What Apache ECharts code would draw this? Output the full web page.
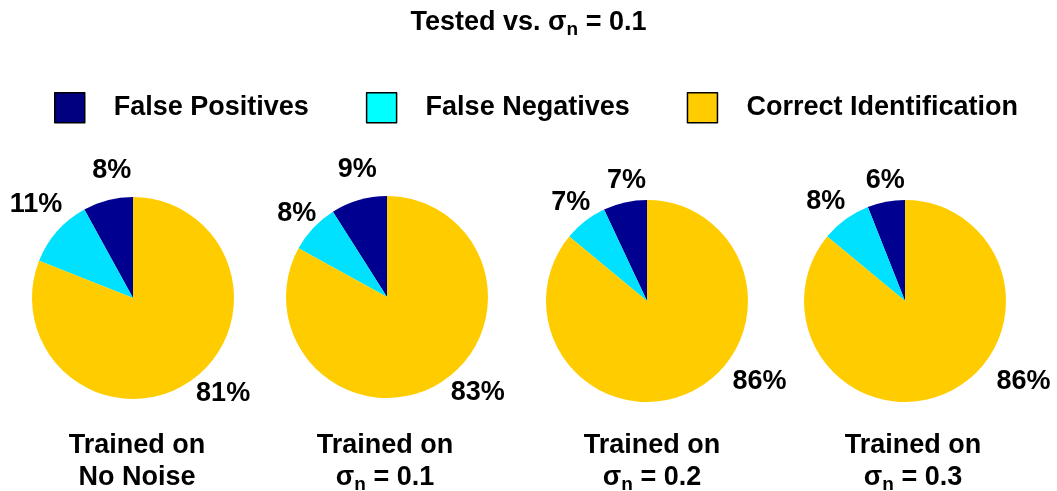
<!DOCTYPE html>
<html lang="en">
<head>
    <meta charset="UTF-8">
    <title>Tested vs. sigma n = 0.1</title>
    <script src="https://cdn.jsdelivr.net/npm/echarts@6/dist/echarts.min.js"></script>
    <style>
        body {
            margin: 0;
            background: #fff;
        }

        #pieChart {
            width: 1057px;
            height: 491px;
        }
    </style>
</head>
<body>
<div id="pieChart"></div>

<script>
    // values (percent)
    const categories = ['False Positives', 'False Negatives', 'Correct Identification'];
    const falsePositives = [8, 9, 7, 6];
    const falseNegatives = [11, 8, 7, 8];
    const correctIds = [81, 83, 86, 86];
    const trainedNoise = ['No Noise', '0.1', '0.2', '0.3'];
    const testedNoise = '0.1';

    // layout
    const font = "'Liberation Sans', Arial, Helvetica, sans-serif";
    const sliceColors = ['#000090', '#00e1ff', '#ffcc00'];
    const legendColors = ['#000080', '#00ffff', '#ffcc00'];
    const pieCenters = [[133, 298], [387, 297], [647, 301], [905, 301]];
    const pieRadius = 101;
    const captionX = [137, 385, 652, 913];
    // labels sit at 1.2 x radius on the slice middle, then nudged a bit
    const labelNudge = [
        [[9, -10], [-6, -13], [22, -5]],
        [[4, -11], [-2, 0], [29, -9]],
        [[6, -2], [-2, -3], [61, -29]],
        [[3, -1], [-8, -1], [67, -29]]
    ];

    const subRich = {
        sub: {
            fontSize: 19,
            fontWeight: 'bold',
            fontFamily: font,
            color: '#000',
            lineHeight: 24,
            verticalAlign: 'bottom'
        }
    };

    function pieValues(i) {
        return [falsePositives[i], falseNegatives[i], correctIds[i]];
    }

    function labelPos(seriesIndex, dataIndex) {
        const vals = pieValues(seriesIndex);
        const total = vals.reduce((a, b) => a + b, 0);
        let before = 0;
        for (let k = 0; k < dataIndex; k++) before += vals[k];
        const mid = (before + vals[dataIndex] / 2) / total * Math.PI * 2;
        const c = pieCenters[seriesIndex];
        const nudge = labelNudge[seriesIndex][dataIndex];
        return {
            x: c[0] - 1.2 * pieRadius * Math.sin(mid) + nudge[0],
            y: c[1] - 1.2 * pieRadius * Math.cos(mid) + nudge[1]
        };
    }

    const titles = [{
        text: 'Tested vs. σ{sub|n} = ' + testedNoise,
        left: 'center',
        top: 2,
        textStyle: {
            fontSize: 27,
            fontWeight: 'bold',
            fontFamily: font,
            color: '#000',
            lineHeight: 32,
            rich: subRich
        }
    }];

    trainedNoise.forEach((t, i) => {
        titles.push({
            text: 'Trained on\n' + (i === 0 ? t : 'σ{sub|n} = ' + t),
            left: captionX[i],
            top: 430,
            textAlign: 'center',
            padding: 0,
            textStyle: {
                fontSize: 27,
                fontWeight: 'bold',
                fontFamily: font,
                color: '#000',
                lineHeight: 32,
                rich: subRich
            }
        });
    });

    const series = trainedNoise.map((t, i) => ({
        name: 'Trained on ' + t,
        type: 'pie',
        center: pieCenters[i],
        radius: pieRadius,
        startAngle: 90,
        clockwise: false,
        avoidLabelOverlap: false,
        color: sliceColors,
        itemStyle: { borderWidth: 0 },
        label: {
            show: true,
            position: 'outside',
            formatter: '{c}%',
            fontSize: 27,
            fontWeight: 'bold',
            fontFamily: font,
            color: '#000'
        },
        labelLine: { show: false },
        labelLayout: params => Object.assign(
            labelPos(params.seriesIndex, params.dataIndex),
            { align: 'center', verticalAlign: 'middle' }
        ),
        emphasis: { disabled: true },
        data: categories.map((name, k) => ({ name: name, value: pieValues(i)[k] }))
    }));

    const chart = echarts.init(document.getElementById('pieChart'));
    chart.setOption({
        animation: false,
        backgroundColor: '#fff',
        title: titles,
        legend: {
            left: 49,
            top: 87,
            icon: 'rect',
            itemWidth: 30,
            itemHeight: 30,
            itemGap: 57,
            selectedMode: false,
            itemStyle: { borderColor: '#000', borderWidth: 1.5 },
            textStyle: {
                fontSize: 27,
                fontWeight: 'bold',
                fontFamily: font,
                color: '#000',
                padding: [0, 0, 0, 24]
            },
            data: categories.map((name, k) => ({
                name: name,
                itemStyle: { color: legendColors[k] }
            }))
        },
        series: series
    });
</script>
</body>
</html>
